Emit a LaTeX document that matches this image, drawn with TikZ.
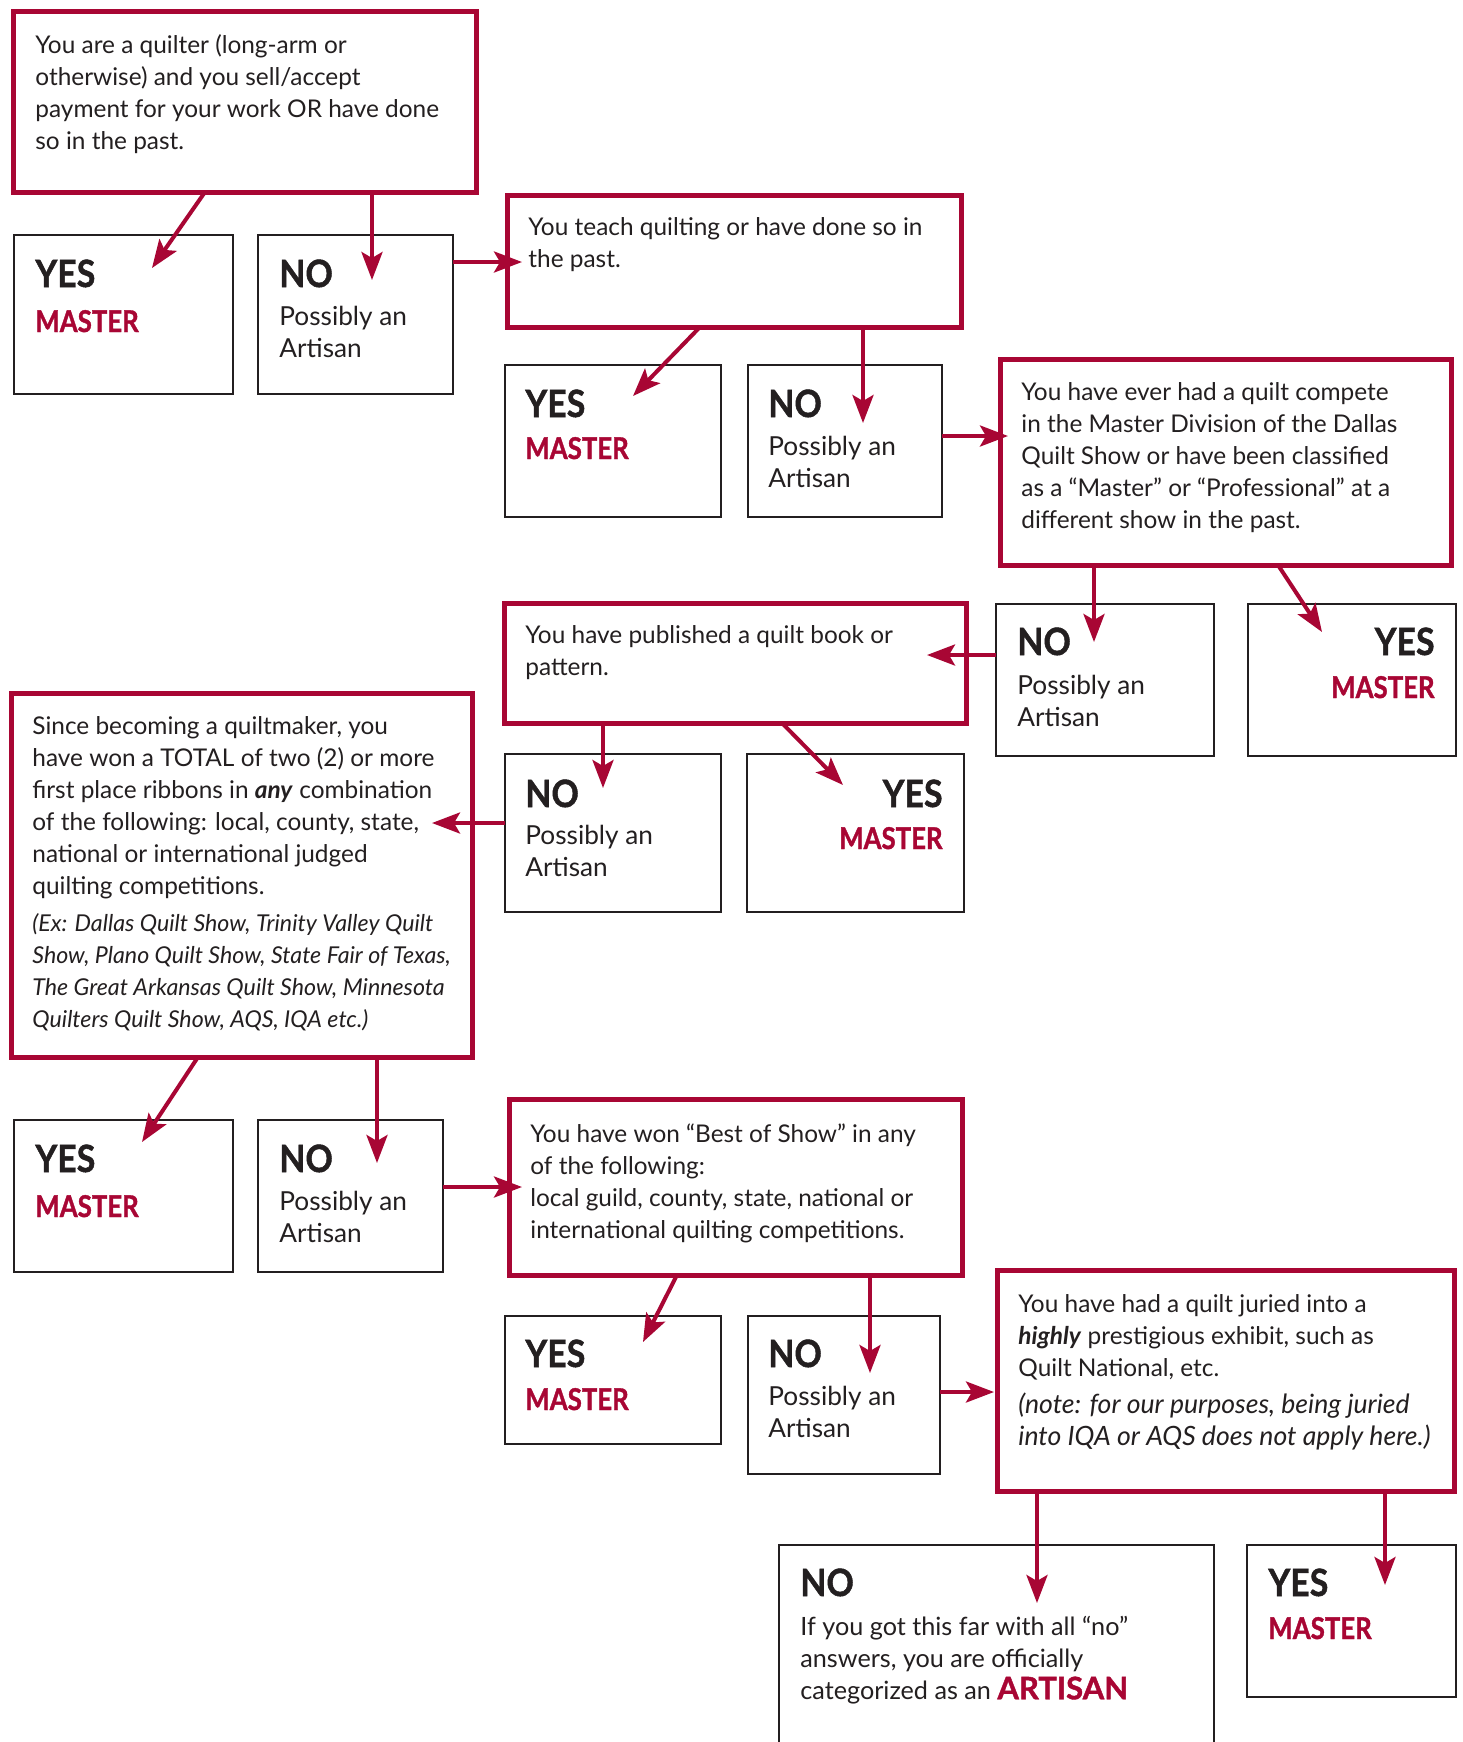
\documentclass[tikz,border=0pt]{standalone}
\usepackage{fontspec}
\usepackage{graphicx}
\setmainfont{Lato}
\newfontfamily\heavyfont{Lato}[BoldFeatures={FakeBold=1.3}]
\usetikzlibrary{arrows.meta,fit,calc}
\definecolor{qred}{RGB}{168,6,52}
\definecolor{ink}{RGB}{35,31,32}
\newcommand{\qlines}[1]{\begin{tabular}[t]{@{}l@{}}#1\end{tabular}}
\newcommand{\exit}[1]{{\fontsize{11.6}{16}\selectfont\itshape #1}}
\newcommand{\noteit}[1]{{\fontsize{13.3}{16}\selectfont\itshape #1}}
\newcommand{\ynl}[1]{\scalebox{0.9}[1]{#1}}
\newcommand{\mstl}[1]{\scalebox{0.86}[1]{#1}}
\begin{document}
\begin{tikzpicture}[x=0.5pt,y=-0.5pt,
  redbox/.style={draw=qred,line width=2.5pt,inner sep=0pt,outer sep=0pt,rectangle},
  blackbox/.style={draw=ink,line width=1.25pt,inner sep=0pt,outer sep=0pt,rectangle},
  qtext/.style={anchor=base west,inner sep=0pt,text=ink,font=\fontsize{12.2}{16}\selectfont},
  atext/.style={qtext,font=\fontsize{13.1}{16}\selectfont},
  ntext/.style={qtext,font=\fontsize{12.6}{16}\selectfont},
  yn/.style={anchor=base west,inner sep=0pt,text=ink,font=\fontsize{18.8}{20}\selectfont\heavyfont\bfseries},
  ynr/.style={yn,anchor=base east},
  mst/.style={anchor=base west,inner sep=0pt,text=qred,font=\fontsize{15}{16}\selectfont\heavyfont\bfseries},
  mstr/.style={mst,anchor=base east},
  arr/.style={draw=qred,line width=2pt,-{Stealth[length=14pt,width=10.5pt,inset=3pt]}}
]
\useasboundingbox (0,0) rectangle (1463,1742);
\clip (0,0) rectangle (1463,1742);
\fill[white] (0,0) rectangle (1463,1742);

% question boxes
\node[redbox,fit={(13,11) (476,192)}] (q1) {};
\node[redbox,fit={(507,195) (961,327)}] (q2) {};
\node[redbox,fit={(1000,359) (1451,565)}] (q3) {};
\node[redbox,fit={(504,603) (966,723)}] (q4) {};
\node[redbox,fit={(11,693) (472,1057)}] (q5) {};
\node[redbox,fit={(509,1099) (962,1275)}] (q6) {};
\node[redbox,fit={(997,1270) (1454,1491)}] (q7) {};

% answer boxes
\node[blackbox,fit={(14,235) (233,394)}] (y1) {};
\node[blackbox,fit={(258,235) (453,394)}] (n1) {};
\node[blackbox,fit={(505,365) (721,517)}] (y2) {};
\node[blackbox,fit={(748,365) (942,517)}] (n2) {};
\node[blackbox,fit={(996,604) (1214,756)}] (n3) {};
\node[blackbox,fit={(1248,604) (1456,756)}] (y3) {};
\node[blackbox,fit={(505,754) (721,912)}] (n4) {};
\node[blackbox,fit={(747,754) (964,912)}] (y4) {};
\node[blackbox,fit={(14,1120) (233,1272)}] (y5) {};
\node[blackbox,fit={(258,1120) (443,1272)}] (n5) {};
\node[blackbox,fit={(505,1316) (721,1444)}] (y6) {};
\node[blackbox,fit={(748,1316) (940,1474)}] (n6) {};
\node[blackbox,fit={(779,1545) (1214,1790)}] (n7) {};
\node[blackbox,fit={(1247,1545) (1456,1697)}] (y7) {};

% question texts
\node[qtext] (q1t) at (35,53) {\qlines{You are a quilter (long-arm or\\otherwise) and you sell/accept\\payment for your work OR have done\\so in the past.}};
\node[qtext] (q2t) at (528,235) {\qlines{You teach quilting or have done so in\\the past.}};
\node[qtext] (q3t) at (1021,400) {\qlines{You have ever had a quilt compete\\in the Master Division of the Dallas\\Quilt Show or have been classified\\as a “Master” or “Professional” at a\\different show in the past.}};
\node[qtext] (q4t) at (525,643) {\qlines{You have published a quilt book or\\pattern.}};
\node[qtext] (q5t) at (32,734) {\qlines{Since becoming a quiltmaker, you\\have won a TOTAL of two (2) or more\\first place ribbons in \textbf{\textit{any}} combination\\of the following: local, county, state,\\national or international judged\\quilting competitions.\\[2.5pt]\exit{(Ex: Dallas Quilt Show, Trinity Valley Quilt}\\\exit{Show, Plano Quilt Show, State Fair of Texas,}\\\exit{The Great Arkansas Quilt Show, Minnesota}\\\exit{Quilters Quilt Show, AQS, IQA etc.)}}};
\node[qtext] (q6t) at (530,1142) {\qlines{You have won “Best of Show” in any\\of the following:\\local guild, county, state, national or\\international quilting competitions.}};
\node[qtext] (q7t) at (1018,1312) {\qlines{You have had a quilt juried into a\\\textbf{\textit{highly}} prestigious exhibit, such as\\Quilt National, etc.\\[2.5pt]\noteit{(note: for our purposes, being juried}\\\noteit{into IQA or AQS does not apply here.)}}};

% answer texts
\node[yn] (y1a) at (35,287) {\ynl{YES}};
\node[mst] (y1b) at (35,332) {\mstl{MASTER}};
\node[yn] (n1a) at (279,287) {\ynl{NO}};
\node[atext] (n1b) at (279,325) {\qlines{Possibly an\\Artisan}};

\node[yn] (y2a) at (525,417) {\ynl{YES}};
\node[mst] (y2b) at (525,459) {\mstl{MASTER}};
\node[yn] (n2a) at (768,417) {\ynl{NO}};
\node[atext] (n2b) at (768,455) {\qlines{Possibly an\\Artisan}};

\node[yn] (n3a) at (1017,655) {\ynl{NO}};
\node[atext] (n3b) at (1017,694) {\qlines{Possibly an\\Artisan}};
\node[ynr] (y3a) at (1435,655) {\ynl{YES}};
\node[mstr] (y3b) at (1435,698) {\mstl{MASTER}};

\node[yn] (n4a) at (525,807) {\ynl{NO}};
\node[atext] (n4b) at (525,844) {\qlines{Possibly an\\Artisan}};
\node[ynr] (y4a) at (943,807) {\ynl{YES}};
\node[mstr] (y4b) at (943,849) {\mstl{MASTER}};

\node[yn] (y5a) at (35,1172) {\ynl{YES}};
\node[mst] (y5b) at (35,1217) {\mstl{MASTER}};
\node[yn] (n5a) at (279,1172) {\ynl{NO}};
\node[atext] (n5b) at (279,1210) {\qlines{Possibly an\\Artisan}};

\node[yn] (y6a) at (525,1367) {\ynl{YES}};
\node[mst] (y6b) at (525,1410) {\mstl{MASTER}};
\node[yn] (n6a) at (768,1367) {\ynl{NO}};
\node[atext] (n6b) at (768,1405) {\qlines{Possibly an\\Artisan}};

\node[yn] (n7a) at (800,1596) {\ynl{NO}};
\node[ntext] (n7b) at (800,1635) {\qlines{If you got this far with all “no”\\answers, you are officially\\categorized as an {\fontsize{15.5}{16}\selectfont\heavyfont\bfseries\color{qred}ARTISAN}}};
\node[yn] (y7a) at (1268,1596) {\ynl{YES}};
\node[mst] (y7b) at (1268,1639) {\mstl{MASTER}};

% arrow tips
\coordinate (t1) at (152,268);
\coordinate (t2) at (372,280);
\coordinate (t3) at (522,262);
\coordinate (t4) at (633,396);
\coordinate (t5) at (863,423);
\coordinate (t6) at (1008,436);
\coordinate (t7) at (1094,642);
\coordinate (t8) at (1322,632);
\coordinate (t9) at (927,655);
\coordinate (t10) at (603,788);
\coordinate (t11) at (843,785);
\coordinate (t12) at (432,823);
\coordinate (t13) at (142,1142);
\coordinate (t14) at (377,1163);
\coordinate (t15) at (522,1187);
\coordinate (t16) at (643,1342);
\coordinate (t17) at (870,1373);
\coordinate (t18) at (994,1392);
\coordinate (t19) at (1037,1603);
\coordinate (t20) at (1385,1585);

% connectors
\draw[arr] ($(q1.south west)+(192,0)$) -- (t1);
\draw[arr] (q1.south -| t2) -- (t2);
\draw[arr] (n1.east |- t3) -- (t3);
\draw[arr] ($(q2.south west)+(193,0)$) -- (t4);
\draw[arr] (q2.south -| t5) -- (t5);
\draw[arr] (n2.east |- t6) -- (t6);
\draw[arr] (q3.south -| t7) -- (t7);
\draw[arr] ($(q3.south west)+(278,0)$) -- (t8);
\draw[arr] (n3.west |- t9) -- (t9);
\draw[arr] (q4.south -| t10) -- (t10);
\draw[arr] ($(q4.south west)+(278,0)$) -- (t11);
\draw[arr] (n4.west |- t12) -- (t12);
\draw[arr] ($(q5.south west)+(187,0)$) -- (t13);
\draw[arr] (q5.south -| t14) -- (t14);
\draw[arr] (n5.east |- t15) -- (t15);
\draw[arr] ($(q6.south west)+(168,0)$) -- (t16);
\draw[arr] (q6.south -| t17) -- (t17);
\draw[arr] (n6.east |- t18) -- (t18);
\draw[arr] (q7.south -| t19) -- (t19);
\draw[arr] (q7.south -| t20) -- (t20);
\end{tikzpicture}
\end{document}
